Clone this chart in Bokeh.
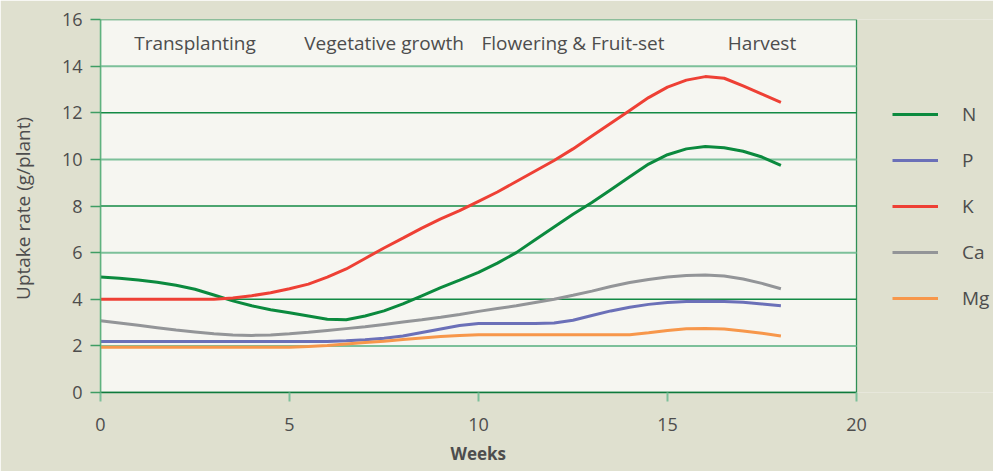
import re
from bokeh.plotting import figure
from bokeh.models import Range1d, FixedTicker, Legend, LegendItem, BoxAnnotation, Title
from bokeh.core.properties import value
from bokeh.embed import file_html
from bokeh.resources import INLINE

# ---- data ----
weeks = [i * 0.5 for i in range(37)]  # 0 .. 18 weeks
N = [4.95, 4.9, 4.83, 4.73, 4.6, 4.43, 4.18, 3.93, 3.72, 3.55, 3.42, 3.28, 3.14, 3.12,
     3.28, 3.5, 3.8, 4.15, 4.5, 4.82, 5.15, 5.55, 6.0, 6.55, 7.1, 7.65, 8.15, 8.7, 9.25,
     9.8, 10.2, 10.45, 10.55, 10.5, 10.35, 10.1, 9.74]
P = [2.19] * 13 + [2.22, 2.26, 2.33, 2.42, 2.57, 2.72, 2.87, 2.96, 2.96, 2.96, 2.96,
     2.98, 3.1, 3.3, 3.5, 3.66, 3.78, 3.86, 3.9, 3.91, 3.9, 3.87, 3.8, 3.72]
K = [4.0] * 7 + [4.05, 4.15, 4.28, 4.45, 4.65, 4.95, 5.3, 5.75, 6.2, 6.62, 7.05, 7.45,
     7.8, 8.2, 8.6, 9.05, 9.5, 9.95, 10.45, 11.0, 11.55, 12.1, 12.65, 13.1, 13.4, 13.55,
     13.48, 13.15, 12.8, 12.45]
Ca = [3.08, 2.98, 2.88, 2.78, 2.68, 2.6, 2.52, 2.47, 2.45, 2.47, 2.52, 2.58, 2.66, 2.74,
      2.82, 2.92, 3.02, 3.12, 3.23, 3.35, 3.48, 3.6, 3.72, 3.86, 4.0, 4.17, 4.35, 4.55,
      4.72, 4.85, 4.95, 5.02, 5.04, 5.0, 4.87, 4.68, 4.45]
Mg = [1.94] * 11 + [1.97, 2.02, 2.08, 2.14, 2.2, 2.27, 2.34, 2.4, 2.45, 2.48] + [2.48] * 8 + \
     [2.56, 2.66, 2.73, 2.75, 2.72, 2.64, 2.54, 2.42]

series_names = ["N", "P", "K", "Ca", "Mg"]
series_colors = ["#0b8a3e", "#6b70b8", "#ee4035", "#939598", "#f7974b"]

stage_labels = ["Transplanting", "Vegetative growth", "Flowering & Fruit-set", "Harvest"]
stage_x = [2.5, 7.5, 12.5, 17.5]
stage_y = [15, 15, 15, 15]

x_min, x_max = 0, 20
y_min, y_max = 0, 16
x_ticks = [0, 5, 10, 15, 20]
y_ticks = [0, 2, 4, 6, 8, 10, 12, 14, 16]
dark_grid = [4, 8, 12]
light_grid = [2, 6, 10, 14]

FONT = "Open Sans"
TXT = "#4d4d4d"
OUTER = "#dfe0cf"

# layout in pixels: plot box 756 px wide; the frame extends to the right edge to host the legend
W, H = 993, 471
LEFT, TOP, BOTTOM = 100, 19, 79
BOX_W = 756
frame_w = W - LEFT
x_end = x_min + (x_max - x_min) * frame_w / BOX_W

p = figure(width=W, height=H, output_backend="svg", toolbar_location=None,
           x_range=Range1d(x_min, x_end), y_range=Range1d(y_min, y_max),
           min_border_left=LEFT, min_border_right=0, min_border_top=TOP, min_border_bottom=BOTTOM)
p.border_fill_color = OUTER
p.background_fill_color = OUTER
p.outline_line_color = None
p.xgrid.visible = False
p.ygrid.visible = False

# plot area box
p.add_layout(BoxAnnotation(left=x_min, right=x_max, bottom=y_min, top=y_max, level="underlay",
                           fill_color="#f6f6f1", fill_alpha=1,
                           line_color="#2f8f55", line_width=1.3, line_alpha=1))

# horizontal grid lines limited to the plot box
p.segment(x0=[x_min] * len(light_grid), x1=[x_max] * len(light_grid), y0=light_grid, y1=light_grid,
          line_color="#7cc09a", line_width=2)
p.segment(x0=[x_min] * len(dark_grid), x1=[x_max] * len(dark_grid), y0=dark_grid, y1=dark_grid,
          line_color="#138a45", line_width=1.3)

# axes
xa = p.xaxis[0]
xa.ticker = FixedTicker(ticks=x_ticks)
xa.bounds = (x_min, x_max)
xa.axis_line_color = "#0e7a3c"
xa.axis_line_width = 1.5
xa.major_tick_line_color = "#7cc09a"
xa.major_tick_line_width = 2
xa.major_tick_out = 9
xa.major_tick_in = 0
xa.minor_tick_line_color = None
xa.major_label_standoff = 16
xa.major_label_text_font = FONT
xa.major_label_text_font_size = "18px"
xa.major_label_text_line_height = 1.0
xa.major_label_text_color = TXT

# "Weeks" label centred under the plot box
p.add_layout(Title(text="Weeks", align="left", offset=350, standoff=13,
                   text_font=FONT, text_font_size="17px", text_font_style="bold",
                   text_line_height=1.0, text_color=TXT), "below")

ya = p.yaxis[0]
ya.ticker = FixedTicker(ticks=y_ticks)
ya.axis_line_color = "#5fb27f"
ya.axis_line_width = 1.5
ya.major_tick_line_color = "#3f9d64"
ya.major_tick_line_width = 1.5
ya.major_tick_out = 10
ya.major_tick_in = 0
ya.minor_tick_line_color = None
ya.major_label_standoff = 8
ya.major_label_text_font = FONT
ya.major_label_text_font_size = "18px"
ya.major_label_text_color = TXT
ya.axis_label = "Uptake rate  (g/plant)"
ya.axis_label_text_font = FONT
ya.axis_label_text_font_size = "19px"
ya.axis_label_text_font_style = "normal"
ya.axis_label_text_color = TXT
ya.axis_label_standoff = 23

# stage labels
p.text(x=stage_x, y=stage_y, text=stage_labels, text_align="center", text_baseline="middle",
       text_font=value(FONT), text_font_size="19px", text_color=TXT)

# lines
items = []
data = [N, P, K, Ca, Mg]
for name, col, vals in zip(series_names, series_colors, data):
    r = p.line(weeks, vals, line_color=col, line_width=3)
    items.append(LegendItem(label=name, renderers=[r]))

legend = Legend(items=items, location=(792, 81), orientation="vertical",
                glyph_width=46, glyph_height=22, label_height=22, spacing=20,
                label_standoff=24, padding=0, margin=0,
                border_line_color=None, background_fill_alpha=0,
                label_text_font=FONT, label_text_font_size="19px", label_text_color=TXT)
p.add_layout(legend)

html = file_html(p, INLINE)
html = re.sub(r"<body>", '<body style="background-color:#dfe0cf">', html, count=1)
open("out.html", "w").write(html)
